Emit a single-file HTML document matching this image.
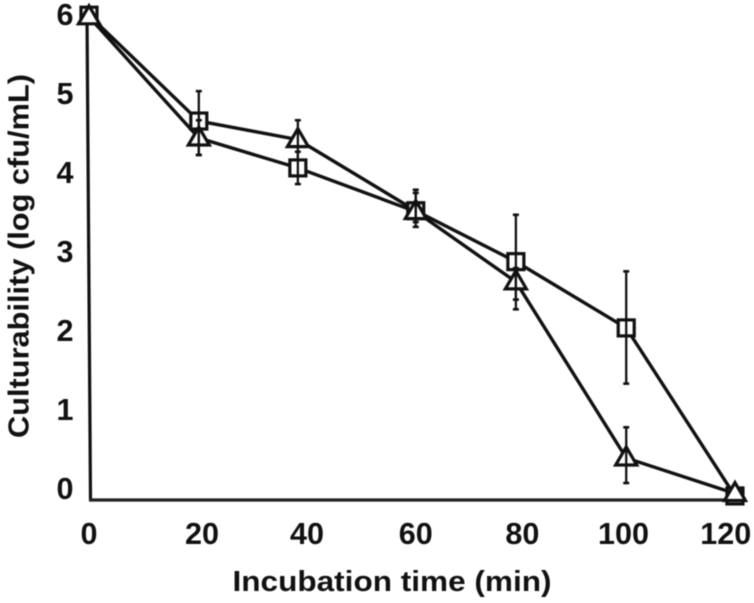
<!DOCTYPE html>
<html>
<head>
<meta charset="utf-8">
<style>
html,body{margin:0;padding:0;background:#fff;}
svg{display:block;filter:blur(0.4px);}
text{font-family:"Liberation Sans",sans-serif;font-weight:bold;fill:#111;}
</style>
</head>
<body>
<svg id="chart" width="754" height="603" viewBox="0 0 754 603" xmlns="http://www.w3.org/2000/svg"></svg>
<script>
const times = [0, 20.4, 38.8, 60.7, 79.3, 99.8, 120];
const upperSeriesValues = [6.0, 4.69, 4.46, 3.58, 2.95, 2.13, 0.05];
const upperSeriesHigh = [6.0, 5.06, 4.70, 3.84, 3.53, 2.83, 0.05];
const upperSeriesLow = [6.0, 4.27, 4.21, 3.38, 2.48, 1.44, 0.05];
const upperSeriesShapes = ["square", "square", "triangle", "square", "square", "square", "square"];
const lowerSeriesValues = [5.98, 4.48, 4.11, 3.57, 2.70, 0.52, 0.08];
const lowerSeriesHigh = [5.98, 4.70, 4.31, 3.80, 2.87, 0.90, 0.08];
const lowerSeriesLow = [5.98, 4.27, 3.91, 3.44, 2.36, 0.21, 0.08];
const lowerSeriesShapes = ["triangle", "triangle", "square", "triangle", "triangle", "triangle", "triangle"];
const xTickLabels = ["0", "20", "40", "60", "80", "100", "120"];
const xTickValues = [0, 21, 40.5, 60.7, 80.5, 99.3, 118.3];
const yTickValues = [0, 1, 2, 3, 4, 5, 6];

const svg = document.getElementById('chart');
const NS = 'http://www.w3.org/2000/svg';
const xScale = t => 89 + t * 5.383;
const yScale = v => 500 - v * 80.8;
const yLabelBaseline = v => 499 - v * 79;

function make(tag, attrs, parent) {
  const el = document.createElementNS(NS, tag);
  for (const k in attrs) el.setAttribute(k, attrs[k]);
  (parent || svg).appendChild(el);
  return el;
}

// axes
const yAxis = make('line', {x1: 87, y1: 15, x2: 90.5, y2: 500, stroke: '#111', 'stroke-width': 3.2});


const xAxis = make('line', {x1: 89, y1: 500, x2: 735, y2: 500, stroke: '#222', 'stroke-width': 3.2});



// tick labels
xTickLabels.forEach((label, i) => {
  const t = make('text', {x: xScale(xTickValues[i]), y: 544, 'font-size': 31, 'text-anchor': 'middle', textLength: label.length * 17, lengthAdjust: 'spacingAndGlyphs'});
  t.textContent = label;
  
  
});
yTickValues.forEach(v => {
  const t = make('text', {x: 65, y: yLabelBaseline(v), 'font-size': 31, 'text-anchor': 'middle', textLength: 17, lengthAdjust: 'spacingAndGlyphs'});
  t.textContent = String(v);
  
  
});

// axis titles
const xTitle = make('text', {x: 392, y: 591, 'font-size': 29, 'text-anchor': 'middle', textLength: 319, lengthAdjust: 'spacingAndGlyphs'});
xTitle.textContent = 'Incubation time (min)';


const yTitle = make('text', {x: 0, y: 0, 'font-size': 29, 'text-anchor': 'middle', textLength: 364, lengthAdjust: 'spacingAndGlyphs', transform: 'translate(28.5,256) rotate(-90)'});
yTitle.textContent = 'Culturability (log cfu/mL)';



function drawLine(values, name) {
  const pts = values.map((v, i) => xScale(times[i]) + ',' + yScale(v)).join(' ');
  const line = make('polyline', {points: pts, fill: 'none', stroke: '#111', 'stroke-width': 3.4, 'stroke-linejoin': 'round'});
  
  
}

function drawErrors(upper, lower, name) {
  upper.forEach((u, i) => {
    if (u === lower[i]) return;
    const x = xScale(times[i]);
    const g = make('g', {stroke: '#111'});
    
    
    make('line', {x1: x, x2: x, y1: yScale(u), y2: yScale(lower[i]), 'stroke-width': 2.3}, g);
    make('line', {x1: x - 3, x2: x + 3, y1: yScale(u), y2: yScale(u), 'stroke-width': 2.6}, g);
    make('line', {x1: x - 3, x2: x + 3, y1: yScale(lower[i]), y2: yScale(lower[i]), 'stroke-width': 2.6}, g);
  });
}

function drawSquare(x, y) {
  const s = make('rect', {x: x - 8, y: y - 8, width: 16, height: 16, fill: '#fff', stroke: '#111', 'stroke-width': 3.2});
  
  
}

function drawTriangle(x, y) {
  const p = make('polygon', {
    points: (x - 10.5) + ',' + (y + 7) + ' ' + x + ',' + (y - 11) + ' ' + (x + 10.5) + ',' + (y + 7),
    fill: '#fff', stroke: '#111', 'stroke-width': 3.2, 'stroke-linejoin': 'miter'
  });
  
  
}

function drawMarkers(values, shapes, wanted) {
  values.forEach((v, i) => {
    if (shapes[i] !== wanted) return;
    if (wanted === 'square') drawSquare(xScale(times[i]), yScale(v));
    else drawTriangle(xScale(times[i]), yScale(v));
  });
}

drawLine(upperSeriesValues, 'upper-series-line');
drawLine(lowerSeriesValues, 'lower-series-line');
drawMarkers(upperSeriesValues, upperSeriesShapes, 'square');
drawMarkers(lowerSeriesValues, lowerSeriesShapes, 'square');
drawMarkers(upperSeriesValues, upperSeriesShapes, 'triangle');
drawMarkers(lowerSeriesValues, lowerSeriesShapes, 'triangle');
drawErrors(upperSeriesHigh, upperSeriesLow, 'upper-series-error-bar');
drawErrors(lowerSeriesHigh, lowerSeriesLow, 'lower-series-error-bar');
</script>
</body>
</html>
